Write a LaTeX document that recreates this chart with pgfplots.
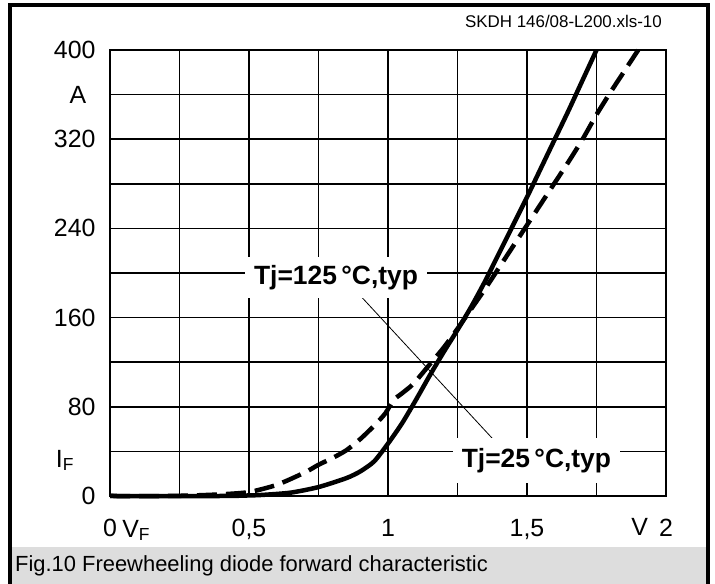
\documentclass[border=0pt]{standalone}
\usepackage{fontspec}
\setmainfont{Liberation Sans}
\usepackage{pgfplots}
\pgfplotsset{compat=1.18}
\definecolor{captiongray}{RGB}{221,221,221}
\begin{document}
\begin{tikzpicture}[x=1bp,y=1bp]
\useasboundingbox (0,0) rectangle (715,584);
\fill[white] (0,0) rectangle (715,584);
% caption band and outer frame
\fill[captiongray] (10,0) rectangle (708,37);
\draw[line width=4bp] (10,0) -- (10,579) -- (708,579) -- (708,0);
\node[anchor=west, inner sep=0pt, font=\fontsize{22}{26}\selectfont] at (15,18.5) {Fig.10 Freewheeling diode forward characteristic};
\node[anchor=east, inner sep=0pt, font=\fontsize{17}{20}\selectfont] at (662,563) {SKDH 146/08-L200.xls-10};

\begin{axis}[
  at={(110bp,88bp)}, anchor=south west,
  scale only axis, width=556bp, height=446bp,
  xmin=0, xmax=2, ymin=0, ymax=400,
  xtick={0,0.25,...,2}, ytick={0,40,...,400},
  xticklabels={0,,0{,}5,,1,,1{,}5,,2},
  yticklabels={0,,80,,160,,240,,320,,400},
  grid=major, major grid style={black, line width=1.5bp},
  major tick length=0pt,
  axis line style={line width=2.6bp},
  tick label style={font=\fontsize{25}{29}\selectfont},
  xticklabel style={yshift=-20bp},
  yticklabel style={xshift=-11bp},
  clip=false,
]
% Tj = 25 C (solid)
\addplot[black, line width=4.5bp, smooth, tension=0.4, line join=round] coordinates {
 (0,0) (0.4,0) (0.5,0.5) (0.55,1) (0.65,3) (0.75,8) (0.85,16) (0.9,22)
 (0.95,31) (1.0,47) (1.05,65) (1.1,86) (1.15,108) (1.2,129) (1.25,149)
 (1.3,170) (1.35,193) (1.4,218) (1.45,243) (1.5,268) (1.55,294) (1.6,320)
 (1.65,346) (1.7,373) (1.75,400)
};
% Tj = 125 C (dashed)
\addplot[black, line width=4.5bp, dash pattern=on 20bp off 9bp, smooth, tension=0.4] coordinates {
 (0,0) (0.2,0) (0.3,0.5) (0.4,1.5) (0.5,3.5) (0.6,10) (0.7,21) (0.75,28)
 (0.8,34) (0.85,41) (0.9,51) (0.95,63) (0.99,74) (1.02,86) (1.05,92)
 (1.08,98) (1.1,103) (1.15,118) (1.2,133) (1.25,150) (1.3,168) (1.35,186)
 (1.4,205) (1.45,224) (1.5,243) (1.55,262) (1.6,281) (1.65,300) (1.7,320)
 (1.75,342) (1.8,362) (1.85,381) (1.9,400)
};
% leader line between the two labels
\draw[black, line width=0.8bp] (axis cs:0.862,190) -- (axis cs:1.374,52);
\node[fill=white, inner xsep=9bp, inner ysep=8bp, font=\bfseries\fontsize{26.5}{31}\selectfont]
  at (axis cs:0.813,196) {Tj=125\,°C,typ};
\node[fill=white, inner xsep=9bp, inner ysep=10bp, font=\bfseries\fontsize{26.5}{31}\selectfont]
  at (axis cs:1.534,32) {Tj=25\,°C,typ};
% axis name labels
\node[font=\fontsize{25}{29}\selectfont] at (axis cs:-0.115,360) {A};
\node[font=\fontsize{25}{29}\selectfont] at (axis cs:-0.162,32) {I\textsubscript{F}};
\node[font=\fontsize{25}{29}\selectfont] at (axis cs:0.094,-31) {V\textsubscript{F}};
\node[font=\fontsize{25}{29}\selectfont] at (axis cs:1.905,-28) {V};
\end{axis}
\end{tikzpicture}
\end{document}
